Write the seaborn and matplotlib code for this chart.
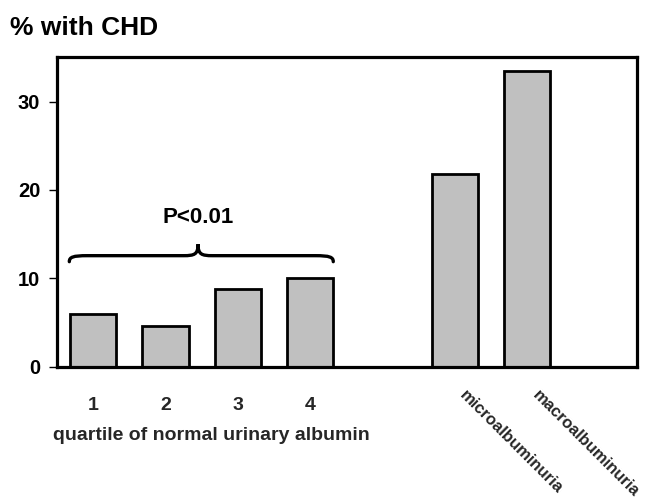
import numpy as np
import pandas as pd
import matplotlib
matplotlib.use("Agg")
import matplotlib.pyplot as plt
from matplotlib.path import Path
from matplotlib.patches import PathPatch
import matplotlib.transforms as mtransforms
import seaborn as sns

# ---- data ----
categories = ["1", "2", "3", "4", "microalbuminuria", "macroalbuminuria"]
values = [6.0, 4.6, 8.8, 10.0, 21.8, 33.4]
order = ["1", "2", "3", "4", "", "microalbuminuria", "macroalbuminuria"]
yticks = [0, 10, 20, 30]
ylabel_text = "% with CHD"
xlabel_text = "quartile of normal urinary albumin"
annot_text = "P<0.01"

sns.set_theme(style="white")
plt.rcParams["font.family"] = ["Liberation Sans", "DejaVu Sans"]
plt.rcParams["font.weight"] = "bold"

df = pd.DataFrame({"cat": categories, "val": values})

fig = plt.figure(figsize=(6.48, 5.0), dpi=100)
ax = fig.add_axes([0.088, 0.2666, 0.895, 0.6188])

sns.barplot(data=df, x="cat", y="val", order=order, color="#c0c0c0",
            saturation=1, width=0.64, edgecolor="black", linewidth=2, ax=ax)

ax.set_ylim(0, 35)
ax.set_xlim(-0.5, 7.52)
ax.set_yticks(yticks)
ax.set_yticklabels([str(t) for t in yticks], fontsize=14.5, fontweight="bold")
for s in ax.spines.values():
    s.set_linewidth(2.3)
    s.set_color("black")
ax.tick_params(axis="y", left=True, length=6, width=1, pad=6, colors="black")
ax.tick_params(axis="x", bottom=False, length=0, pad=22)

ax.set_ylabel("")
ax.set_xlabel(xlabel_text, fontsize=14, fontweight="bold", va="top")
ax.xaxis.set_label_coords(0.2655, -0.194)

offset = mtransforms.ScaledTranslation(13 / 100, 10 / 100, fig.dpi_scale_trans)
for lab in ax.get_xticklabels():
    lab.set_fontsize(14)
    lab.set_fontweight("bold")
    if "albumin" in lab.get_text():
        lab.set_rotation(-45)
        lab.set_ha("left")
        lab.set_va("top")
        lab.set_rotation_mode("anchor")
        lab.set_fontsize(12)
        lab.set_transform(lab.get_transform() + offset)

# brace over quartile bars
x0, x1, xm = -0.33, 3.32, 1.45
yl, yt, ye = 12.56, 13.85, 11.88
verts = [
    (x0, ye),
    (x0, 12.4), (x0 + 0.05, yl), (x0 + 0.25, yl),
    (xm - 0.2, yl),
    (xm - 0.05, yl), (xm, 12.7), (xm, yt),
    (xm, 12.7), (xm + 0.05, yl), (xm + 0.2, yl),
    (x1 - 0.25, yl),
    (x1 - 0.05, yl), (x1, 12.4), (x1, ye),
]
codes = [Path.MOVETO,
         Path.CURVE4, Path.CURVE4, Path.CURVE4,
         Path.LINETO,
         Path.CURVE4, Path.CURVE4, Path.CURVE4,
         Path.CURVE4, Path.CURVE4, Path.CURVE4,
         Path.LINETO,
         Path.CURVE4, Path.CURVE4, Path.CURVE4]
ax.add_patch(PathPatch(Path(verts, codes), fill=False, lw=2.4,
                       edgecolor="black", capstyle="round", clip_on=False))
ax.text(xm, 16.9, annot_text, ha="center", va="center", fontsize=16,
        fontweight="bold", color="black")

fig.text(0.015, 0.93, ylabel_text, ha="left", va="baseline", fontsize=19,
         fontweight="bold", color="black")

fig.savefig("out.png", dpi=100, facecolor="white")
